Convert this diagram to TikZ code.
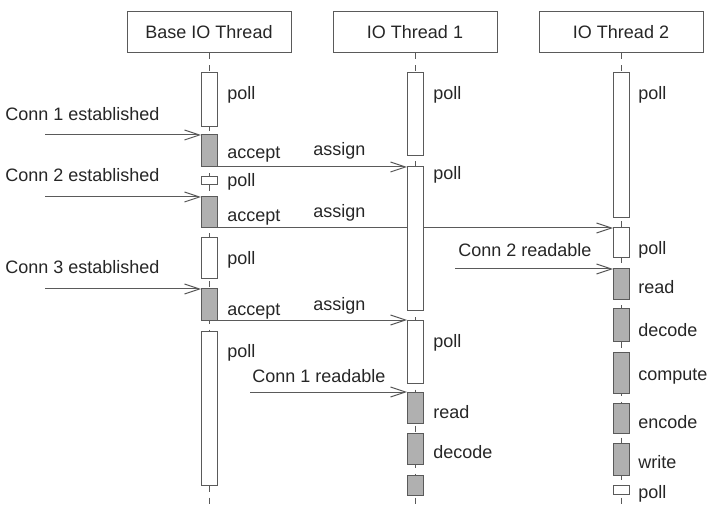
\documentclass[tikz,border=0pt]{standalone}
\usepackage{fontspec}
\setmainfont{Liberation Sans}
\usetikzlibrary{arrows.meta, positioning, backgrounds}

\definecolor{linegray}{HTML}{5A5A5A}
\definecolor{busygray}{HTML}{B0B0B0}
\definecolor{textgray}{HTML}{262626}

\tikzset{
  thread/.style={draw=linegray, line width=0.5pt, minimum width=82pt, minimum height=20.5pt, inner sep=0pt, text=textgray},
  lifeline/.style={draw=linegray, line width=0.4pt, dash pattern=on 3pt off 3pt},
  act/.style={draw=linegray, line width=0.5pt, minimum width=8pt, inner sep=0pt, outer sep=0pt},
  msg/.style={draw=linegray, line width=0.5pt, -{Straight Barb[length=7.5pt,width=5pt]}},
  lbl/.style={inner sep=0pt, anchor=base west, text=textgray},
}

\begin{document}
\begin{tikzpicture}[x=0.5pt, y=-0.5pt, font=\fontsize{9}{11}\selectfont]
\useasboundingbox (0,0) rectangle (715,517);

% Thread headers
\node[thread] (base) at (209,32.5) {Base IO Thread};
\node[thread] (io1) at (415,32.5) {IO Thread 1};
\node[thread] (io2) at (621,32.5) {IO Thread 2};

% Base IO Thread
\foreach \n/\yt/\yb/\col/\txt/\ty in {b1/73/127/white/poll/100, b2/135/167/busygray/accept/159,
    b3/177/185/white/poll/187, b4/197/228/busygray/accept/222, b5/238/279/white/poll/265,
    b6/289/320/busygray/accept/315, b7/331/485/white/poll/357}
{
    \node[act, fill=\col, minimum height={(\yb-\yt)*0.5pt}] (\n) at (209,{(\yt+\yb)/2}) {};
    \node[lbl] at (227,\ty) {\txt};
}

% IO Thread 1
\foreach \n/\yt/\yb/\col/\txt/\ty in {t1/73/156/white/poll/100, t2/167/311/white/poll/180,
    t3/320/383/white/poll/347, t4/392/423/busygray/read/418, t5/433/464/busygray/decode/458}
{
    \node[act, fill=\col, minimum height={(\yb-\yt)*0.5pt}] (\n) at (415,{(\yt+\yb)/2}) {};
    \node[lbl] at (433,\ty) {\txt};
}
\node[act, fill=busygray, minimum height=10pt] (t6) at (415,485) {};

% IO Thread 2
\foreach \n/\yt/\yb/\col/\txt/\ty in {r1/73/218/white/poll/100, r2/228/258/white/poll/255,
    r3/269/300/busygray/read/294, r4/309/341/busygray/decode/336, r5/352/393/busygray/compute/380,
    r6/403/433/busygray/encode/428, r7/443/475/busygray/write/468, r8/485/494/white/poll/498}
{
    \node[act, fill=\col, minimum height={(\yb-\yt)*0.5pt}] (\n) at (621,{(\yt+\yb)/2}) {};
    \node[lbl] at (638,\ty) {\txt};
}

% Lifelines and messages, behind the boxes
\begin{scope}[on background layer]
\foreach \h in {base, io1, io2}
    \draw[lifeline] (\h.south) -- ++(0,454);

\coordinate (c1) at (45,135);
\coordinate (c2) at (45,197);
\coordinate (c3) at (45,289);
\coordinate (rd1) at (250,392);
\coordinate (rd2) at (455,269);

\draw[msg] (c1) -- (b2.north west);
\draw[msg] (c2) -- (b4.north west);
\draw[msg] (c3) -- (b6.north west);
\draw[msg] (b2.south east) -- (t2.north west);
\draw[msg] (b4.south east) -- (r2.north west);
\draw[msg] (b6.south east) -- (t3.north west);
\draw[msg] (rd1) -- (t4.north west);
\draw[msg] (rd2) -- (r3.north west);
\end{scope}

% Message labels
\node[lbl] (l1) at (5,121) {Conn 1 established};
\node[lbl] (l2) at (5,182) {Conn 2 established};
\node[lbl] (l3) at (5,274) {Conn 3 established};
\node[lbl] (a1) at (313,156) {assign};
\node[lbl] (a2) at (313,218) {assign};
\node[lbl] (a3) at (313,311) {assign};
\node[lbl] (l4) at (252,382) {Conn 1 readable};
\node[lbl] (l5) at (458,257) {Conn 2 readable};

\end{tikzpicture}
\end{document}
